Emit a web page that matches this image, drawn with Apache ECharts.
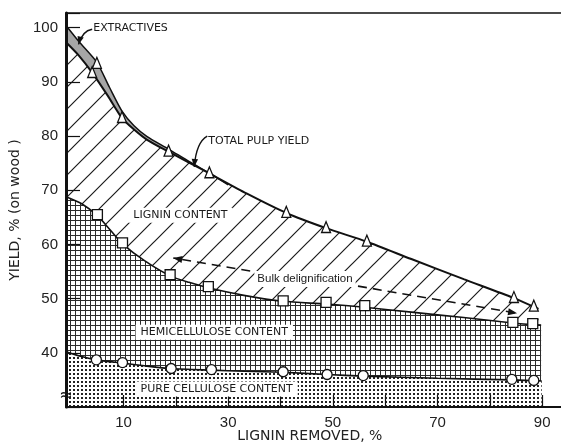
<!DOCTYPE html>
<html><head><meta charset="utf-8">
<script src="https://cdn.jsdelivr.net/npm/echarts@6/dist/echarts.min.js"></script>
<style>html,body{margin:0;padding:0;background:#fff}#c{width:561px;height:446px}</style>
</head><body><div id="c"></div>
<script>
// ---- tick labels ----
const xTickLabels = [10, 30, 50, 70, 90];
const xTicks = [10, 20, 30, 40, 50, 60, 70, 80, 90];
const yTickLabels = [40, 50, 60, 70, 80, 90, 100];

// ---- curves (lignin removed %, yield % on wood) ----
const extractivesCurve = [[-1,100.4],[1.5,97.4],[4.9,93.6],[7.3,89.0],[9.7,84.6],[12,81.9],[14.5,79.9],[18.6,77.6],[22.5,75.3],[27,72.8],[30,71.0]];
const totalYieldCurve = [[-1,97.3],[1.5,94.8],[4.0,91.7],[7,87.4],[9.7,83.3],[12,81.2],[14.5,79.3],[18.6,77.1],[22.5,75.1],[26.4,73.1],[33.5,69.4],[41.1,65.8],[48.7,63.0],[56.5,60.5],[65,57.3],[75,53.6],[84.6,50.1],[89.3,48.1]];
const carbohydrateCurve = [[-1,68.8],[2,67.5],[5.0,65.3],[7.5,62.6],[9.8,60.1],[14,57.0],[18.9,54.2],[22.5,53.0],[26.2,52.0],[33,50.6],[40.5,49.5],[48.7,49.0],[56.1,48.4],[65,47.5],[75,46.5],[84.4,45.5],[89.8,45.1]];
const celluloseCurve = [[-1,40.2],[2,39.3],[4.8,38.7],[9.8,38.1],[14,37.6],[19.1,37.1],[26.8,36.8],[33,36.6],[40.5,36.4],[48.9,36.0],[55.8,35.7],[70,35.3],[84.2,35.0],[89.9,34.8]];

// ---- measured points ----
const totalYieldPoints = [[4.0,91.8],[4.9,93.5],[9.7,83.5],[18.6,77.3],[26.4,73.3],[41.1,66.0],[48.7,63.2],[56.5,60.7],[84.6,50.3],[88.4,48.7]];
const carbohydratePoints = [[5.0,65.5],[9.8,60.3],[18.9,54.4],[26.2,52.2],[40.5,49.6],[48.7,49.3],[56.1,48.7],[84.4,45.6],[88.2,45.4]];
const cellulosePoints = [[4.8,38.7],[9.8,38.2],[19.1,37.1],[26.8,36.9],[40.5,36.5],[48.9,36.0],[55.8,35.8],[84.2,35.1],[88.4,34.9]];

// ---- text labels ----
const xTitle = {text:'LIGNIN REMOVED, %', at:[45.6,24.6]};
const regionLabels = [
  {text:'EXTRACTIVES', at:[4.2,99.9], box:false},
  {text:'TOTAL PULP YIELD', at:[26.2,79.1], box:false},
  {text:'LIGNIN CONTENT', at:[10.9,65.4], box:true},
  {text:'HEMICELLULOSE CONTENT', at:[12.3,43.8], box:true},
  {text:'PURE CELLULOSE CONTENT', at:[12.3,33.3], box:true}
];
const bulkLabel = {text:'Bulk delignification', at:[35.0,53.6]};

function pattern(w, h, draw) {
  const c = document.createElement('canvas');
  c.width = w; c.height = h;
  const ctx = c.getContext('2d');
  ctx.fillStyle = '#fff'; ctx.fillRect(0, 0, w, h);
  draw(ctx, w, h);
  return {image: c, repeat: 'repeat'};
}
const hatch = pattern(22, 22, (ctx, w, h) => {
  ctx.strokeStyle = '#1a1a1a'; ctx.lineWidth = 1.2;
  ctx.beginPath();
  ctx.moveTo(-2, h + 2); ctx.lineTo(w + 2, -2);
  ctx.moveTo(-2, 2); ctx.lineTo(2, -2);
  ctx.moveTo(w - 2, h + 2); ctx.lineTo(w + 2, h - 2);
  ctx.stroke();
});
const grid = pattern(5, 5, (ctx) => {
  ctx.fillStyle = '#2c2c2c';
  ctx.fillRect(0, 0, 5, 1); ctx.fillRect(0, 0, 1, 5);
});
const dots = pattern(4, 4, (ctx) => {
  ctx.fillStyle = '#222';
  ctx.fillRect(1, 1, 2, 2);
});

const chart = echarts.init(document.getElementById('c'), null, {renderer: 'canvas'});

function areaSeries(data, fill, lw) {
  return {
    type: 'line', data: data, smooth: 0.25, symbol: 'none',
    lineStyle: {color: '#111', width: lw},
    areaStyle: {color: fill, opacity: 1, origin: 'start'},
    silent: true, animation: false
  };
}
function markerSeries(data, symbol, size) {
  return {
    type: 'scatter', data: data, symbol: symbol, symbolSize: size,
    itemStyle: {color: '#fff', borderColor: '#111', borderWidth: 1.3, opacity: 1},
    animation: false, z: 5
  };
}

chart.setOption({
  backgroundColor: '#fff',
  animation: false,
  grid: {left: 66, right: 0, top: 13, bottom: 39, containLabel: false, outerBoundsMode: 'none'},
  xAxis: [{
    type: 'value', min: -1, max: 93.6, z: 10,
    axisLine: {show: true, onZero: false, lineStyle: {color: '#111', width: 2}},
    axisTick: {show: true, inside: true, length: 12, customValues: xTicks, lineStyle: {color: '#111', width: 1.2}},
    axisLabel: {customValues: xTickLabels, fontFamily: 'Liberation Sans', fontSize: 15, color: '#222', margin: 8},
    splitLine: {show: false}
  }, {
    type: 'value', min: -1, max: 93.6, position: 'top', z: 10,
    axisLine: {show: true, onZero: false, lineStyle: {color: '#111', width: 1.5}},
    axisTick: {show: false}, axisLabel: {show: false}, splitLine: {show: false}
  }],
  yAxis: {
    type: 'value', min: 30, max: 102.7, interval: 10, z: 10,
    name: 'YIELD, % (on wood )', nameLocation: 'middle', nameGap: 40, nameRotate: 90,
    nameTextStyle: {fontFamily: 'DejaVu Sans', fontSize: 14, color: '#222'},
    axisLine: {show: true, onZero: false, lineStyle: {color: '#111', width: 3}},
    axisTick: {show: true, inside: true, length: 14, lineStyle: {color: '#111', width: 1.2}},
    axisLabel: {fontFamily: 'Liberation Sans', fontSize: 15, color: '#222', margin: 8,
      formatter: v => yTickLabels.indexOf(v) >= 0 ? String(v) : ''},
    splitLine: {show: false}
  },
  series: [
    areaSeries(extractivesCurve, '#a6a6a6', 1.5),
    areaSeries(totalYieldCurve, hatch, 2),
    areaSeries(carbohydrateCurve, grid, 1.6),
    {
      type: 'custom', silent: true, animation: false,
      data: cellulosePoints.map((p, i) => [p[0], p[1], carbohydratePoints[i][1]]),
      renderItem: (params, api) => {
        const a = api.coord([api.value(0), api.value(1)]);
        const b = api.coord([api.value(0), api.value(2)]);
        return {type: 'line', shape: {x1: a[0], y1: a[1], x2: b[0], y2: b[1]}, style: {stroke: '#111', lineWidth: 1.2}};
      }
    },
    areaSeries(celluloseCurve, dots, 1.6),
    markerSeries(totalYieldPoints, 'triangle', [9, 11]),
    markerSeries(carbohydratePoints, 'rect', 10),
    markerSeries(cellulosePoints, 'circle', 10)
  ]
});

// ---- annotations ----
const P = v => chart.convertToPixel({gridIndex: 0}, v);
function arrowHead(tip, from, len, half) {
  const dx = tip[0] - from[0], dy = tip[1] - from[1];
  const d = Math.hypot(dx, dy) || 1, ux = dx / d, uy = dy / d;
  const bx = tip[0] - ux * len, by = tip[1] - uy * len;
  return {type: 'polygon', shape: {points: [tip, [bx - uy * half, by + ux * half], [bx + uy * half, by - ux * half]]},
    style: {fill: '#111'}, z: 30};
}
const g = [];
{
  const p = P(xTitle.at);
  g.push({type: 'text', x: p[0], y: p[1], z: 40, style: {
    text: xTitle.text, font: '14px "DejaVu Sans"', fill: '#222', align: 'center', verticalAlign: 'middle'}});
}
regionLabels.forEach(l => {
  const p = P(l.at);
  g.push({type: 'text', x: p[0], y: p[1], z: 40, style: {
    text: l.text, font: '11px "DejaVu Sans"', fill: '#1a1a1a', align: 'left', verticalAlign: 'middle',
    backgroundColor: l.box ? '#fff' : 'transparent', padding: l.box ? [2, 5, 2, 5] : 0
  }});
});
{
  const p = P(bulkLabel.at);
  g.push({type: 'text', x: p[0], y: p[1], z: 40, style: {
    text: bulkLabel.text, font: '11.5px "Liberation Sans"', fill: '#1a1a1a', align: 'left', verticalAlign: 'middle',
    backgroundColor: '#fff', padding: [2, 3]
  }});
}
function curvedArrow(s, c, e) {
  const S = P(s), C = P(c), E = P(e);
  g.push({type: 'bezierCurve', shape: {x1: S[0], y1: S[1], cpx1: C[0], cpy1: C[1], x2: E[0], y2: E[1]},
    style: {stroke: '#111', lineWidth: 1.4, fill: null}, z: 30});
  g.push(arrowHead(E, C, 8, 3.2));
}
curvedArrow([4.0, 99.7], [2.1, 99.4], [1.4, 96.9]);
curvedArrow([26.0, 80.0], [23.9, 78.9], [23.5, 74.3]);
function dashedArrow(s, e) {
  const S = P(s), E = P(e);
  g.push({type: 'line', shape: {x1: S[0], y1: S[1], x2: E[0], y2: E[1]},
    style: {stroke: '#111', lineWidth: 1.6, lineDash: [9, 6]}, z: 30});
  g.push(arrowHead(E, S, 9, 3.5));
}
dashedArrow([34.2, 55.1], [19.5, 57.5]);
dashedArrow([54.8, 52.3], [85.2, 47.3]);
{
  const b = P([-1, 32.0]);
  g.push({type: 'text', x: b[0], y: b[1], z: 40, style: {text: '\u2248', font: '16px "DejaVu Sans"', fill: '#111', align: 'center', verticalAlign: 'middle'}});
}
chart.setOption({graphic: g});
</script>
</body></html>
